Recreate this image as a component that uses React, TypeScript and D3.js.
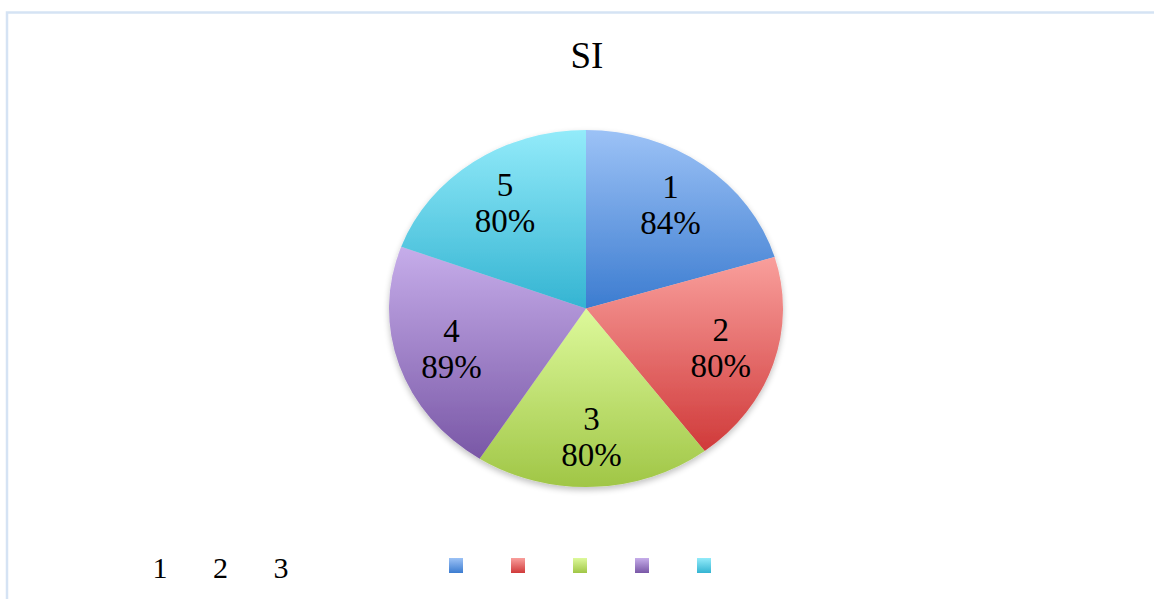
import React from "react";
import * as d3 from "d3";

const categories = ["1", "2", "3", "4", "5"];
const values = [84, 80, 80, 89, 80];
const legendTexts = ["1", "2", "3"];
const title = "SI";
const topColors = ["#9cc2f6", "#f99f9c", "#ddf99b", "#c6adea", "#93ebfa"];
const bottomColors = ["#3c7cd0", "#d03a3a", "#a0c646", "#7957a6", "#34b4d2"];

const W = 1154;
const H = 599;
const cx = 586;
const cy = 308.5;
const rx = 197;
const ry = 178.5;
const font = "'Liberation Serif', 'DejaVu Serif', serif";

export default function App() {
  const pie = d3.pie<number>().sort(null).value((d) => d).startAngle(0).endAngle(2 * Math.PI);
  const arcs = pie(values);
  const arc = d3.arc<d3.PieArcDatum<number>>().innerRadius(0).outerRadius(ry);
  const labelArc = d3.arc<d3.PieArcDatum<number>>().innerRadius(ry * 0.72).outerRadius(ry * 0.72);
  const sx = rx / ry;

  const legendX = d3.scalePoint<string>().domain(categories).range([456, 704]);
  const legendTextX = d3.scalePoint<string>().domain(legendTexts).range([160, 281]);

  return (
    <div style={{ position: "absolute", left: 0, top: 0 }}>
      <svg width={W} height={H} style={{ display: "block" }}>
        <defs>
          {categories.map((c, i) => (
            <linearGradient key={c} id={`g${i}`} x1="0" y1="0" x2="0" y2="1">
              <stop offset="0" stopColor={topColors[i]} />
              <stop offset="1" stopColor={bottomColors[i]} />
            </linearGradient>
          ))}
          <filter id="sh" x="-10%" y="-10%" width="120%" height="125%">
            <feGaussianBlur in="SourceAlpha" stdDeviation="3" />
            <feOffset dx="0" dy="3" result="b" />
            <feComponentTransfer>
              <feFuncA type="linear" slope="0.25" />
            </feComponentTransfer>
            <feMerge>
              <feMergeNode />
              <feMergeNode in="SourceGraphic" />
            </feMerge>
          </filter>
        </defs>
        <rect x={0} y={0} width={W} height={H} fill="#ffffff" />
        <path d={`M7,${H} L7,12.5 L${W},12.5`} fill="none" stroke="#d5e3f4" strokeWidth={2.5} />
        <text x={587} y={68} textAnchor="middle" fontFamily={font} fontSize={37} fill="#000">
          {title}
        </text>
        <g transform={`translate(${cx},${cy}) scale(${sx},1)`} filter="url(#sh)">
          {arcs.map((a, i) => (
            <path key={i} d={arc(a) || ""} fill={`url(#g${i})`} />
          ))}
        </g>
        {arcs.map((a, i) => {
          const [lx, ly] = labelArc.centroid(a);
          const x = cx + lx * sx;
          const y = cy + ly;
          return (
            <text key={i} textAnchor="middle" fontFamily={font} fontSize={33} fill="#000">
              <tspan x={x} y={y - 7}>{categories[i]}</tspan>
              <tspan x={x} y={y + 29}>{`${values[i]}%`}</tspan>
            </text>
          );
        })}
        {categories.map((c, i) => (
          <rect
            key={c}
            x={(legendX(c) || 0) - 7}
            y={558}
            width={14}
            height={15}
            fill={`url(#g${i})`}
          />
        ))}
        {legendTexts.map((t) => (
          <text key={t} x={legendTextX(t)} y={578} textAnchor="middle" fontFamily={font} fontSize={30} fill="#000">
            {t}
          </text>
        ))}
      </svg>
    </div>
  );
}
